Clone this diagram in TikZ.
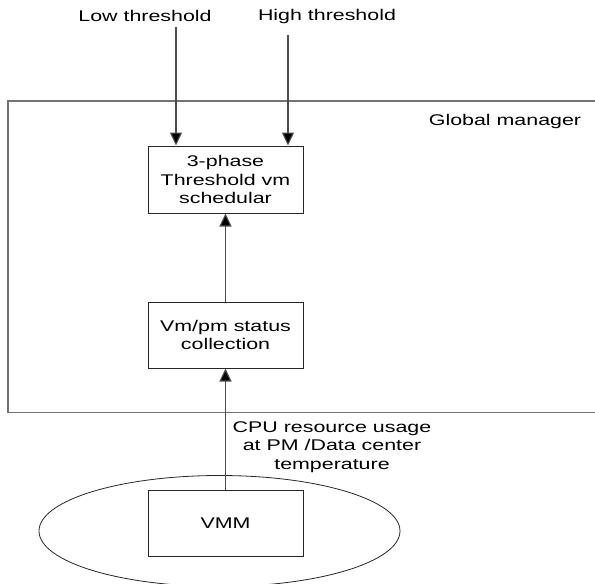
\documentclass[tikz,border=0pt]{standalone}
\usepackage{fontspec}
\setmainfont[FakeStretch=1.38]{Liberation Sans}
\usetikzlibrary{arrows.meta,shapes.geometric}
\begin{document}
\begin{tikzpicture}[x=1pt,y=-1pt,
  txt/.style={font=\fontsize{15.5}{18.5}\selectfont, align=center, inner sep=0pt},
  procbox/.style={draw=black!85, line width=1pt, minimum width=155pt, inner sep=0pt, font=\fontsize{15.5}{18.5}\selectfont, align=center},
  conn/.style={draw=black!70, line width=1.1pt, -{Triangle[width=12pt,length=13pt,fill=black]}},
  frame/.style={draw=black!55, line width=1.1pt}]
\useasboundingbox (0,0) rectangle (595,584);
% global manager frame (open to the right)
\draw[frame] (600,101) -- (8,101) -- (8,412.5) -- (600,412.5);
\node[txt] (gm) at (505,121) {Global manager};
% inputs
\node[txt] (low) at (145,16) {Low threshold};
\node[txt] (high) at (327,16) {High threshold};
\coordinate (lowstart) at (176,27);
\coordinate (highstart) at (288,35);
% boxes
\node[procbox, minimum height=67pt] (sched) at (225.5,179.5) {3-phase\\Threshold vm\\schedular};
\node[procbox, minimum height=66pt] (coll) at (225.5,335) {Vm/pm status\\collection};
\node[draw=black!85, line width=0.8pt, ellipse, minimum width=361pt, minimum height=111pt, inner sep=0pt] (pm) at (219.5,531) {};
\node[procbox, minimum height=66pt] (vmm) at (225.5,523.5) {VMM};
\node[txt] (cpu) at (332,447) {CPU resource usage\\at PM /Data center\\temperature};
% connectors
\draw[conn] (lowstart) -- (lowstart |- sched.north);
\draw[conn] (highstart) -- (highstart |- sched.north);
\draw[conn] (coll.north) -- (sched.south);
\draw[conn] (vmm.north) -- (coll.south);
\end{tikzpicture}
\end{document}
